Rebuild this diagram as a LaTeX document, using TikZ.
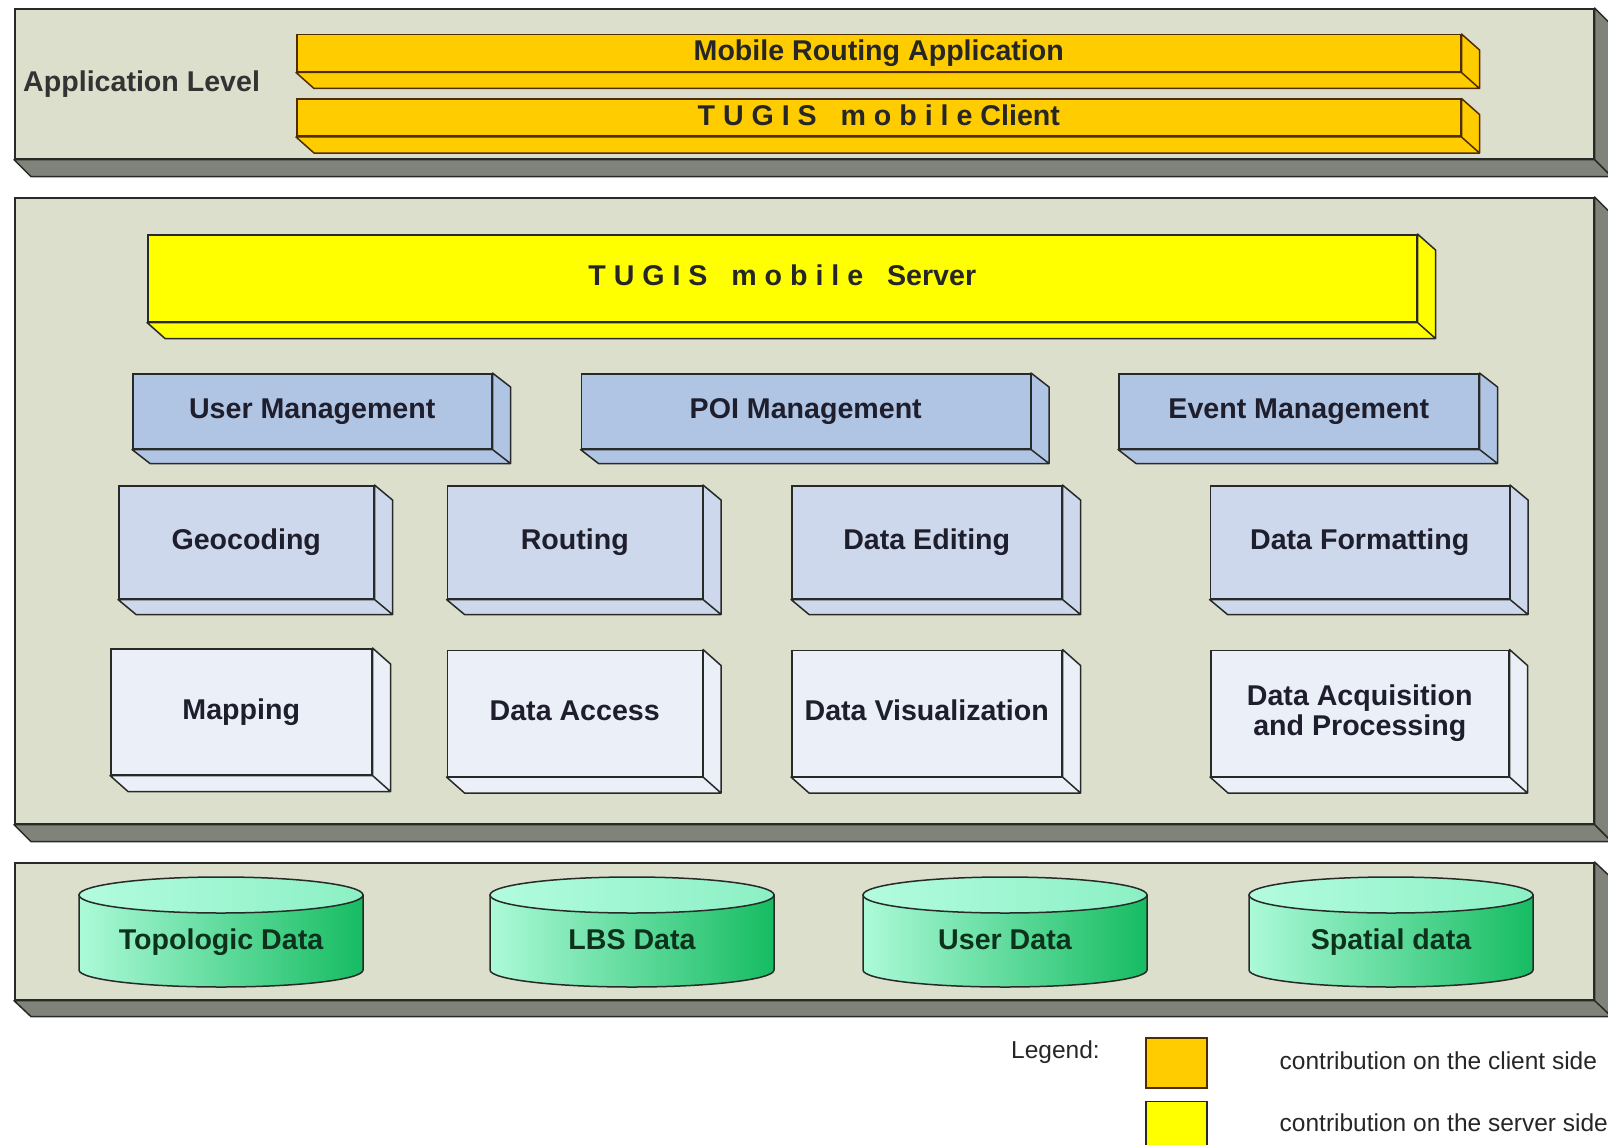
\documentclass[tikz,border=0pt]{standalone}
\usepackage{fontspec}
\setmainfont{Liberation Sans}
\usepackage{tikz}
\usetikzlibrary{positioning, calc}
\usepackage{xcolor}

\definecolor{panelface}{RGB}{221,223,205}
\definecolor{paneldepth}{RGB}{128,131,121}
\definecolor{edge}{RGB}{40,42,40}
\definecolor{clientfill}{RGB}{255,204,0}
\definecolor{clientedge}{RGB}{80,45,0}
\definecolor{serverfill}{RGB}{255,255,0}
\definecolor{mgmtfill}{RGB}{176,196,228}
\definecolor{servicefill}{RGB}{205,216,236}
\definecolor{basefill}{RGB}{235,239,248}
\definecolor{dbleft}{RGB}{172,250,216}
\definecolor{dbright}{RGB}{22,188,98}
\definecolor{dbtopleft}{RGB}{178,252,222}
\definecolor{dbtopright}{RGB}{140,240,196}
\definecolor{labeltext}{RGB}{30,30,45}
\definecolor{dbtextcol}{RGB}{12,50,28}

\newcommand{\tierfont}{\fontsize{28.6}{30}\selectfont\bfseries}
\newcommand{\legendfont}{\fontsize{24.5}{28}\selectfont}

% extruded faces below and right of a box
\newcommand{\boxdepth}[4]{%
  \filldraw[#4, line width=1.5pt, line join=round]
    (#1.south west) -- ++(#2,#3) -- ($(#1.south east)+(#2,#3)$) -- (#1.south east) -- cycle
    (#1.north east) -- ++(#2,#3) -- ($(#1.south east)+(#2,#3)$) -- (#1.south east) -- cycle;
}

% database cylinder: name, centre x, centre y, label
\newcommand{\dbcyl}[4]{%
  \draw[left color=dbleft, right color=dbright, draw=edge, line width=1.5pt]
    (#2-142,#3-37) -- (#2-142,#3+38)
    arc[start angle=180, end angle=0, x radius=142, y radius=17]
    -- (#2+142,#3-37) -- cycle;
  \draw[left color=dbtopleft, right color=dbtopright, draw=edge, line width=1.5pt]
    (#2,#3-37) ellipse [x radius=142, y radius=18];
  \node[dbtext, anchor=base] (#1) at (#2,#3+17) {#4};
}

\begin{document}
\begin{tikzpicture}[x=1pt, y=-1pt,
  panel/.style={rectangle, draw=edge, fill=panelface, line width=1.6pt, anchor=north west, inner sep=0pt, minimum width=1579pt},
  paneldepthstyle/.style={fill=paneldepth, draw=edge},
  tiertext/.style={font=\tierfont, text=black!80, inner sep=0pt},
  oneline/.style={text height=20.5pt, text depth=6pt},
  clientbar/.style={rectangle, draw=clientedge, fill=clientfill, line width=1.5pt, inner sep=0pt, minimum width=1164pt, minimum height=37pt, font=\tierfont, text=black!85, oneline},
  clientdepth/.style={fill=clientfill, draw=clientedge},
  serverbar/.style={rectangle, draw=edge, fill=serverfill, line width=1.5pt, inner sep=0pt, minimum width=1269pt, minimum height=87pt, font=\tierfont, text=black!85, oneline},
  serverdepth/.style={fill=serverfill, draw=edge},
  mgmt/.style={rectangle, draw=edge, fill=mgmtfill, line width=1.5pt, inner sep=0pt, minimum height=75pt, font=\tierfont, text=labeltext, oneline},
  mgmtdepth/.style={fill=mgmtfill, draw=edge},
  service/.style={rectangle, draw=edge, fill=servicefill, line width=1.5pt, inner sep=0pt, minimum height=113pt, font=\tierfont, text=labeltext, oneline},
  servicedepth/.style={fill=servicefill, draw=edge},
  base/.style={rectangle, draw=edge, fill=basefill, line width=1.5pt, inner sep=0pt, minimum height=126pt, font=\tierfont, text=labeltext, align=center},
  basedepth/.style={fill=basefill, draw=edge},
  dbtext/.style={font=\tierfont, text=dbtextcol, inner sep=0pt},
  legendtext/.style={font=\legendfont, text=black!85, inner sep=0pt},
  legendbox/.style={rectangle, line width=1.5pt, inner sep=0pt, minimum width=61pt, minimum height=50pt}
]
    \useasboundingbox (0,0) rectangle (1608,1145);

    % Tiers
    \node[panel, minimum height=150pt] (apptier) at (14,8) {};
    \boxdepth{apptier}{17}{17}{paneldepthstyle}
    \node[panel, minimum height=626pt] (servertier) at (14,197) {};
    \boxdepth{servertier}{17}{17}{paneldepthstyle}
    \node[panel, minimum height=137pt] (datatier) at (14,862) {};
    \boxdepth{datatier}{17}{16}{paneldepthstyle}

    % Application level
    \node[tiertext, anchor=west, oneline] (applevel) at (23,84) {Application Level};
    \node[clientbar, anchor=north west] (routingapp) at (296,34) {Mobile Routing Application};
    \node[clientbar, below=26pt of routingapp] (tugisclient) {T U G I S~~~m o b i l e Client};
    \boxdepth{routingapp}{18}{16}{clientdepth}
    \boxdepth{tugisclient}{18}{16}{clientdepth}

    % Server
    \node[serverbar, anchor=north west] (tugisserver) at (147,234) {T U G I S~~~m o b i l e~~~Server};
    \boxdepth{tugisserver}{18}{16}{serverdepth}

    % Management row
    \node[mgmt, anchor=north west, minimum width=359pt] (usermgmt) at (132,373) {User Management};
    \node[mgmt, minimum width=449pt, right=88pt of usermgmt] (poimgmt) {POI Management};
    \node[mgmt, minimum width=360pt, right=87pt of poimgmt] (eventmgmt) {Event Management};
    \foreach \n in {usermgmt, poimgmt, eventmgmt} {\boxdepth{\n}{18}{14}{mgmtdepth}}

    % Services
    \node[service, anchor=north west, minimum width=255pt] (geocoding) at (118,485) {Geocoding};
    \node[service, minimum width=255pt, right=72pt of geocoding] (routing) {Routing};
    \node[service, minimum width=270pt, right=88pt of routing] (dataediting) {Data Editing};
    \node[service, minimum width=299pt, right=147pt of dataediting] (dataformatting) {Data Formatting};
    \foreach \n in {geocoding, routing, dataediting, dataformatting} {\boxdepth{\n}{18}{15}{servicedepth}}

    % Base services
    \node[base, oneline, anchor=north west, minimum width=261pt] (mapping) at (110,648) {Mapping};
    \node[base, oneline, minimum width=255pt, below=50pt of routing] (dataaccess) {Data Access};
    \node[base, oneline, minimum width=270pt, below=50pt of dataediting] (datavis) {Data Visualization};
    \node[base, minimum width=298pt, below=50pt of dataformatting] (dataacq) {Data Acquisition\\and Processing};
    \foreach \n in {mapping, dataaccess, datavis, dataacq} {\boxdepth{\n}{18}{16}{basedepth}}

    % Data stores
    \dbcyl{topodata}{221}{932}{Topologic Data}
    \dbcyl{lbsdata}{632}{932}{LBS Data}
    \dbcyl{userdata}{1005}{932}{User Data}
    \dbcyl{spatialdata}{1391}{932}{Spatial data}

    % Legend
    \node[legendtext, anchor=west] (legendlabel) at (1011,1052) {Legend:};
    \node[legendbox, fill=clientfill, draw=clientedge, anchor=north west] (clientkey) at (1145,1037) {};
    \node[legendbox, fill=serverfill, draw=edge, below=12pt of clientkey] (serverkey) {};
    \node[legendtext, right=72pt of clientkey, yshift=2pt] (clientnote) {contribution on the client side};
    \node[legendtext, right=72pt of serverkey, yshift=4pt] (servernote) {contribution on the server side};

\end{tikzpicture}
\end{document}
